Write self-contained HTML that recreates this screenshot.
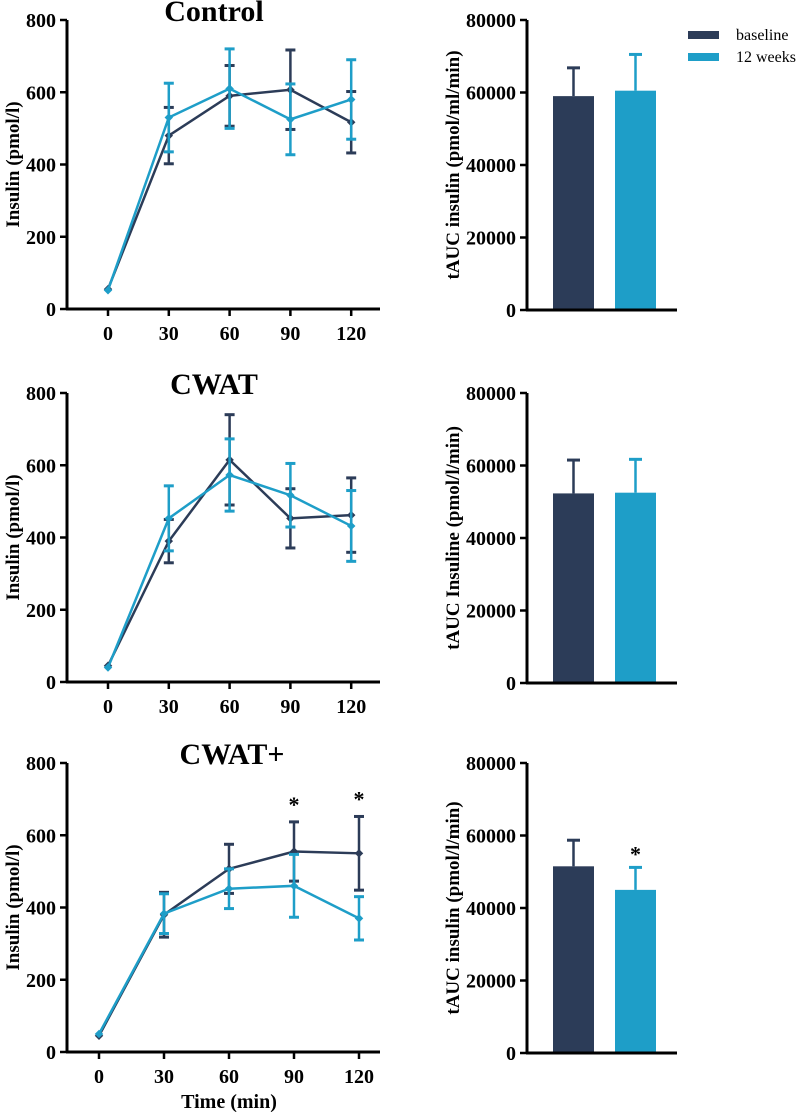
<!DOCTYPE html>
<html><head><meta charset="utf-8"><style>
body{margin:0;background:#fff;}
svg{display:block;font-family:"Liberation Serif",serif;font-weight:bold;}
</style></head><body>
<svg id="c" width="796" height="1112"></svg>
<script>
const times=[0,30,60,90,120];
const panelTitles=["Control","CWAT","CWAT+"];
const baseMean=[[55,480,590,607,517],[45,390,615,453,462],[45,380,507,555,550]];
const baseErr=[[0,78,84,110,85],[0,60,125,82,103],[0,62,68,82,102]];
const wkMean=[[52,530,610,525,580],[40,453,573,517,432],[50,383,452,460,370]];
const wkErr=[[0,95,110,98,110],[0,90,100,88,98],[0,55,55,87,60]];
const lineStars=[[],[],[90,120]];
const yTicks=[0,200,400,600,800];
const barTicks=[0,20000,40000,60000,80000];
const barBase=[59000,52300,51500];
const barBaseErr=[7800,9200,7200];
const barWk=[60500,52500,45000];
const barWkErr=[10000,9200,6200];
const barStars=[false,false,true];
const barYLabels=["tAUC insulin (pmol/ml/min)","tAUC Insuline (pmol/l/min)","tAUC insulin (pmol/l/min)"];
const DARK="#2c3c58",LIGHT="#1e9ec8";
const svg=document.getElementById('c');const NS="http://www.w3.org/2000/svg";
function el(t,a,p){const e=document.createElementNS(NS,t);for(const k in a)e.setAttribute(k,a[k]);(p||svg).appendChild(e);return e;}
function txt(s,a,p){const e=el('text',a,p);e.textContent=s;return e;}
const offs=[0,373,743];
for(let p=0;p<3;p++){
  const o=offs[p];
  const g=el('g',{});
  
  
  const y0=309+o,yTop=20+o;
  const Y=v=>y0-v*(y0-yTop)/800;
  const x0=p==2?99:108,step=p==2?65:60.8;
  const X=t=>x0+t/30*step;
  const t=txt(panelTitles[p],{x:p==2?232:214,y:o+21,'font-size':30,'text-anchor':'middle'},g);
  
  el('line',{x1:67,y1:yTop,x2:67,y2:y0,stroke:'#000','stroke-width':3},g);
  el('line',{x1:66,y1:y0,x2:380,y2:y0,stroke:'#000','stroke-width':3},g);
  yTicks.forEach(v=>{el('line',{x1:60,y1:Y(v),x2:67,y2:Y(v),stroke:'#000','stroke-width':2.5},g);
    txt(String(v),{x:56,y:Y(v)+7,'font-size':20,'text-anchor':'end'},g);});
  times.forEach(tm=>{el('line',{x1:X(tm),y1:y0,x2:X(tm),y2:y0+7,stroke:'#000','stroke-width':2.5},g);
    txt(String(tm),{x:X(tm),y:y0+31,'font-size':20,'text-anchor':'middle'},g);});
  const yl=txt('Insulin (pmol/l)',{x:0,y:0,'font-size':19,'text-anchor':'middle',transform:`translate(19,${(y0+yTop)/2}) rotate(-90)`},g);
  
  [[baseMean[p],baseErr[p],DARK,'baseline'],[wkMean[p],wkErr[p],LIGHT,'12-weeks']].forEach(([m,e,c,n])=>{
    const s=el('g',{},g);
    times.forEach((tm,i)=>{if(!e[i])return;const x=X(tm);
      el('line',{x1:x,y1:Y(m[i]-e[i]),x2:x,y2:Y(m[i]+e[i]),stroke:c,'stroke-width':2.5},s);
      [m[i]-e[i],m[i]+e[i]].forEach(v=>el('line',{x1:x-5,y1:Y(v),x2:x+5,y2:Y(v),stroke:c,'stroke-width':3},s));});
    el('polyline',{points:times.map((tm,i)=>X(tm)+','+Y(m[i])).join(' '),fill:'none',stroke:c,'stroke-width':2.5},s);
    times.forEach((tm,i)=>el('rect',{x:X(tm)-3,y:Y(m[i])-3,width:6,height:6,fill:c,transform:`rotate(45 ${X(tm)} ${Y(m[i])})`},s));
  });
  lineStars[p].forEach(tm=>{const i=times.indexOf(tm);
    const s=txt('*',{x:X(tm),y:Y(baseMean[p][i]+baseErr[p][i])-10,'font-size':22,'text-anchor':'middle'},g);
    });
  if(p==2){const tl=txt('Time (min)',{x:229,y:1108,'font-size':20,'text-anchor':'middle'},g);
    }
  const b=el('g',{});
  const by0=310+o,byT=20+o;const BY=v=>by0-v*(by0-byT)/80000;
  el('line',{x1:527,y1:byT,x2:527,y2:by0,stroke:'#000','stroke-width':3},b);
  el('line',{x1:526,y1:by0,x2:677,y2:by0,stroke:'#000','stroke-width':3},b);
  barTicks.forEach(v=>{el('line',{x1:520,y1:BY(v),x2:527,y2:BY(v),stroke:'#000','stroke-width':2.5},b);
    txt(String(v),{x:516,y:BY(v)+7,'font-size':20,'text-anchor':'end'},b);});
  const bl=txt(barYLabels[p],{x:0,y:0,'font-size':19,'text-anchor':'middle',transform:`translate(459,${(by0+byT)/2}) rotate(-90)`},b);
  
  [[barBase[p],barBaseErr[p],DARK,553,'bar-baseline'],[barWk[p],barWkErr[p],LIGHT,615,'bar-12-weeks']].forEach(([v,e,c,x,n])=>{
    const r=el('rect',{x:x,y:BY(v),width:41,height:by0-BY(v)-1.5,fill:c},b);
    
    el('line',{x1:x+20.5,y1:BY(v),x2:x+20.5,y2:BY(v+e),stroke:c,'stroke-width':2.5},b);
    el('line',{x1:x+14,y1:BY(v+e),x2:x+27,y2:BY(v+e),stroke:c,'stroke-width':3},b);
  });
  if(barStars[p]){const s=txt('*',{x:635.5,y:BY(barWk[p]+barWkErr[p])-6,'font-size':22,'text-anchor':'middle'},b);
    }
}
const lg=el('g',{});
[['baseline',DARK,35],['12 weeks',LIGHT,57]].forEach(([n,c,y])=>{
  const e=el('g',{},lg);
  el('rect',{x:688,y:y-4,width:31,height:8,fill:c},e);
  txt(n,{x:736,y:y+5,'font-size':16,'font-weight':'normal'},e);});
</script>
</body></html>
